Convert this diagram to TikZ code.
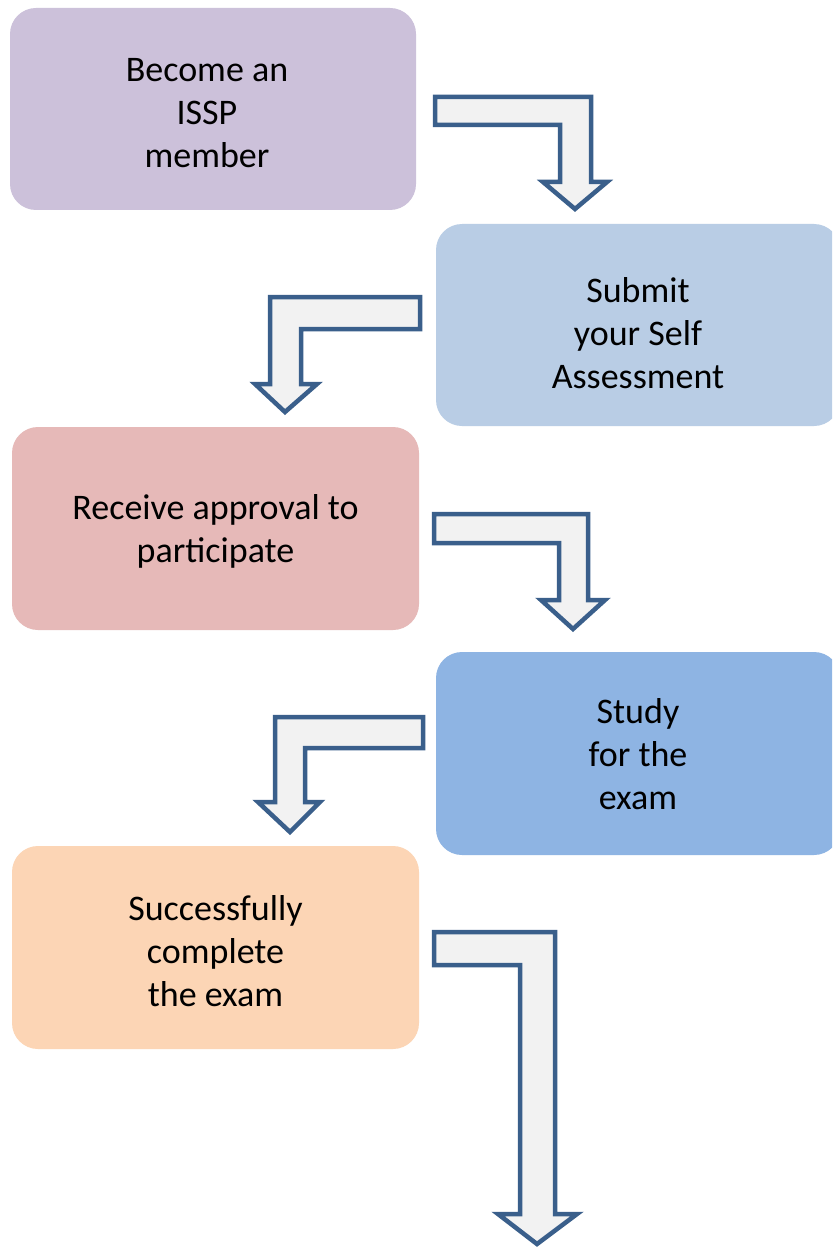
\documentclass[tikz,border=0pt]{standalone}
\usepackage{fontspec}
\setmainfont{Carlito}
\definecolor{cA}{HTML}{CCC1DA}
\definecolor{cB}{HTML}{B9CDE5}
\definecolor{cC}{HTML}{E6B9B8}
\definecolor{cD}{HTML}{8EB4E3}
\definecolor{cE}{HTML}{FCD5B5}
\definecolor{arrline}{HTML}{3A5F8B}
\definecolor{arrfill}{HTML}{F2F2F2}
\newcommand{\boxlines}[3]{\hspace*{#1}\raisebox{#2}[\height][\depth]{\begin{tabular}{@{}c@{}}#3\end{tabular}}}
\begin{document}
\begin{tikzpicture}[x=1pt,y=-1pt,
  box/.style={rounded corners=26pt, minimum width=406pt, minimum height=202pt,
    align=center, inner sep=0pt, font=\fontsize{36}{43}\selectfont},
  bentarrow/.style={draw=arrline, fill=arrfill, line width=4.5pt, line join=miter}]
\useasboundingbox (0,0) rectangle (832,1249);
\clip (0,0) rectangle (832,1249);
\fill[white] (0,0) rectangle (832,1249);
% boxes
\node[box, fill=cA] (b1) at (213,109) {\boxlines{-12pt}{-7pt}{Become an\\ISSP\\member}};
\node[box, fill=cB, minimum width=404pt] (b2) at (638,325) {\boxlines{0pt}{-12pt}{Submit\\your Self\\Assessment}};
\node[box, fill=cC, minimum width=407pt, minimum height=203pt] (b3) at (215.5,528.5) {\boxlines{0pt}{-4pt}{Receive approval to\\participate}};
\node[box, fill=cD, minimum width=404pt, minimum height=203pt] (b4) at (638,753.5) {\boxlines{0pt}{-4pt}{Study\\for the\\exam}};
\node[box, fill=cE, minimum width=407pt, minimum height=203pt] (b5) at (215.5,947.5) {\boxlines{0pt}{-7pt}{Successfully\\complete\\the exam}};
% bent arrows
\draw[bentarrow] (435,97) -- (591,97) -- (591,182) -- (607,182) -- (575,209)
  -- (543,182) -- (560,182) -- (560,125) -- (435,125) -- cycle;
\draw[bentarrow] (420,297) -- (270,297) -- (270,384) -- (255,384) -- (285,412)
  -- (317,384) -- (301,384) -- (301,329) -- (420,329) -- cycle;
\draw[bentarrow] (434,514) -- (588,514) -- (588,600) -- (605,600) -- (573,629)
  -- (541,600) -- (559,600) -- (559,543) -- (434,543) -- cycle;
\draw[bentarrow] (423,717) -- (275,717) -- (275,802) -- (258,802) -- (290,832)
  -- (320,802) -- (305,802) -- (305,748) -- (423,748) -- cycle;
\draw[bentarrow] (434,932) -- (555,932) -- (555,1214) -- (577,1214) -- (537,1244)
  -- (498,1214) -- (520,1214) -- (520,965) -- (434,965) -- cycle;
\end{tikzpicture}
\end{document}
